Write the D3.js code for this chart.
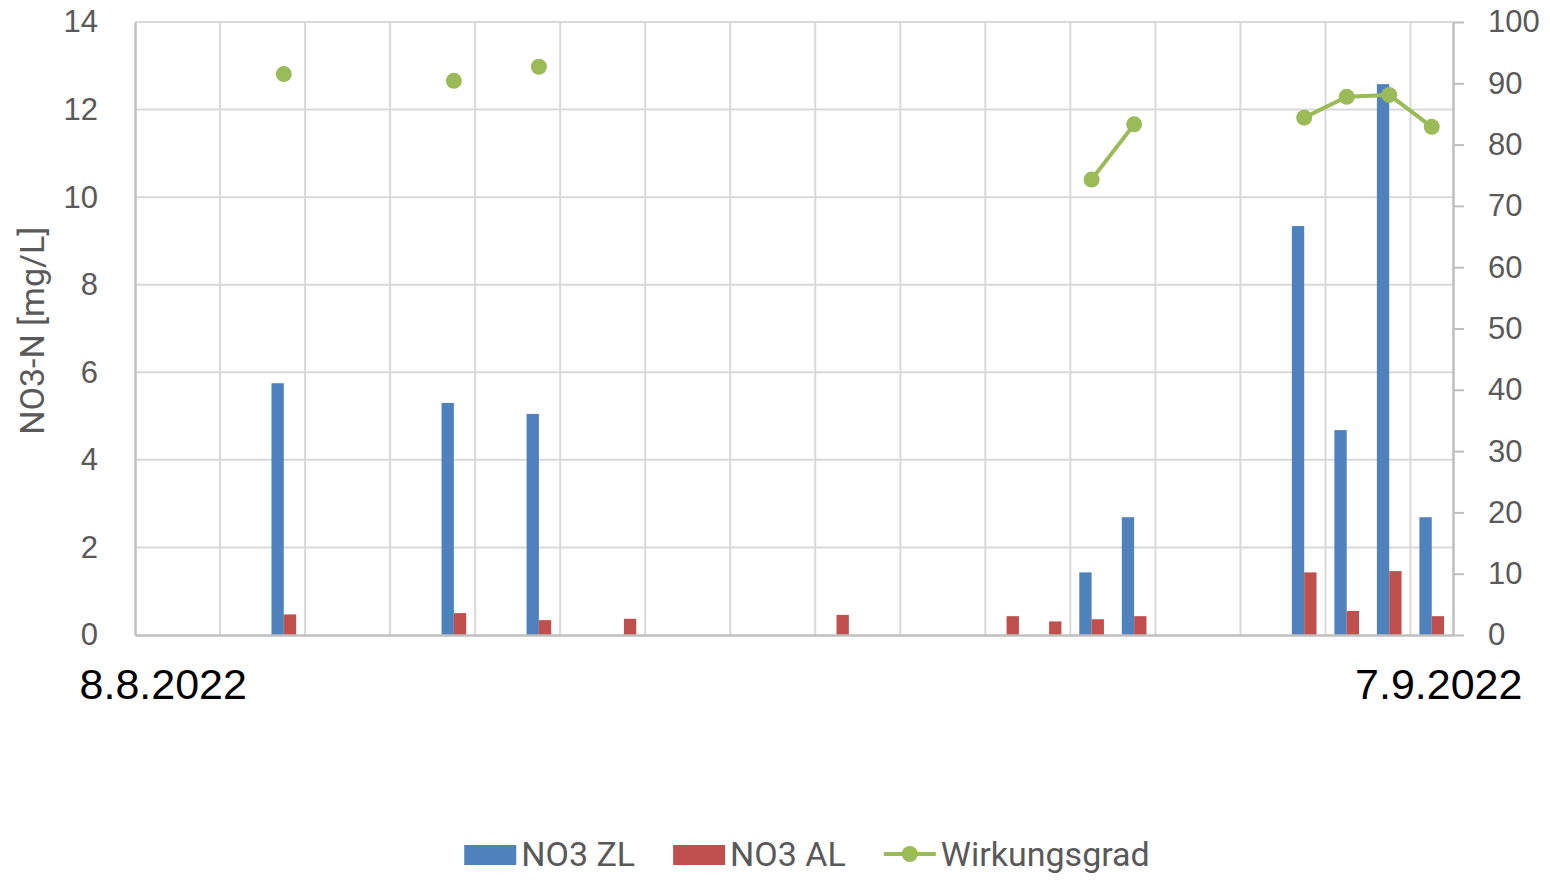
<!DOCTYPE html>
<html>
<head>
<meta charset="utf-8">
<script src="https://cdn.jsdelivr.net/npm/d3@7"></script>
<style>
  body { margin: 0; background: #fff; }
  svg { display: block; font-family: Roboto, "Liberation Sans", sans-serif; }
</style>
</head>
<body>
<svg width="1550" height="880"></svg>
<script>
// one category per day, 8.8.2022 - 7.9.2022
let dates = ["8.8.2022", "9.8.2022", "10.8.2022", "11.8.2022", "12.8.2022", "13.8.2022", "14.8.2022",
    "15.8.2022", "16.8.2022", "17.8.2022", "18.8.2022", "19.8.2022", "20.8.2022", "21.8.2022",
    "22.8.2022", "23.8.2022", "24.8.2022", "25.8.2022", "26.8.2022", "27.8.2022", "28.8.2022",
    "29.8.2022", "30.8.2022", "31.8.2022", "1.9.2022", "2.9.2022", "3.9.2022", "4.9.2022",
    "5.9.2022", "6.9.2022", "7.9.2022"];

let xLabels = ["8.8.2022", "7.9.2022"];
let leftTicks = [0, 2, 4, 6, 8, 10, 12, 14];
let rightTicks = [0, 10, 20, 30, 40, 50, 60, 70, 80, 90, 100];

// NO3-N [mg/L], null = no measurement
let no3ZL = [null, null, null, 5.75, null, null, null, 5.30, null, 5.05,
    null, null, null, null, null, null, null, null, null, null, null, null,
    1.43, 2.69, null, null, null, 9.34, 4.68, 12.58, 2.69];
let no3AL = [null, null, null, 0.47, null, null, null, 0.50, null, 0.34,
    null, 0.37, null, null, null, null, 0.46, null, null, null, 0.43, 0.31,
    0.36, 0.43, null, null, null, 1.43, 0.55, 1.46, 0.43];
// Wirkungsgrad [%]
let wirkungsgrad = [null, null, null, 91.5, null, null, null, 90.4, null, 92.7,
    null, null, null, null, null, null, null, null, null, null, null, null,
    74.3, 83.3, null, null, null, 84.4, 87.8, 88.1, 82.9];

let blue = "#4f81bd", red = "#c0504d", green = "#9bbb59";
let gridColor = "#d9d9d9", axisColor = "#bfbfbf", textColor = "#595959";

let svg = d3.select("svg");
let margin = {top: 22, right: 97, bottom: 245, left: 135};
let width = 1550 - margin.left - margin.right;
let height = 880 - margin.top - margin.bottom;

let g = svg.append("g")
    .attr("transform", "translate(" + margin.left + "," + margin.top + ")");

let x = d3.scaleBand().domain(dates).range([0, width]).padding(0);
let yL = d3.scaleLinear().domain([0, 14]).range([height, 0]);
let yR = d3.scaleLinear().domain([0, 100]).range([height, 0]);
let bw = x.bandwidth();
let barW = bw * 0.29;

// gridlines
g.append("g").selectAll("line")
    .data(leftTicks.filter(t => t > 0))
    .enter().append("line")
    .attr("x1", 0).attr("x2", width)
    .attr("y1", d => yL(d)).attr("y2", d => yL(d))
    .attr("stroke", gridColor).attr("stroke-width", 2);

g.append("g").selectAll("line")
    .data(dates.filter((d, i) => i > 0 && i % 2 == 0))
    .enter().append("line")
    .attr("x1", d => x(d)).attr("x2", d => x(d))
    .attr("y1", 0).attr("y2", height)
    .attr("stroke", gridColor).attr("stroke-width", 2);

// bars
g.append("g").selectAll("rect")
    .data(dates.filter((d, i) => no3ZL[i] != null))
    .enter().append("rect")
    .attr("x", d => x(d) + bw / 2 - barW)
    .attr("width", barW)
    .attr("y", d => yL(no3ZL[dates.indexOf(d)]))
    .attr("height", d => height - yL(no3ZL[dates.indexOf(d)]))
    .attr("fill", blue);

g.append("g").selectAll("rect")
    .data(dates.filter((d, i) => no3AL[i] != null))
    .enter().append("rect")
    .attr("x", d => x(d) + bw / 2)
    .attr("width", barW)
    .attr("y", d => yL(no3AL[dates.indexOf(d)]))
    .attr("height", d => height - yL(no3AL[dates.indexOf(d)]))
    .attr("fill", red);

// axes
let leftAxis = g.append("g")
    .call(d3.axisLeft(yL).tickValues(leftTicks).tickSize(0).tickPadding(37));
leftAxis.select(".domain").attr("stroke", axisColor).attr("stroke-width", 2.5);
leftAxis.selectAll("text").attr("font-size", "31px").attr("fill", textColor).attr("font-family", null);

let rightAxis = g.append("g")
    .attr("transform", "translate(" + width + ",0)")
    .call(d3.axisRight(yR).tickValues(rightTicks).tickSizeInner(11).tickSizeOuter(0).tickPadding(24));
rightAxis.select(".domain").attr("stroke", axisColor).attr("stroke-width", 2.5);
rightAxis.selectAll("line").attr("stroke", axisColor).attr("stroke-width", 2);
rightAxis.selectAll("text").attr("font-size", "31px").attr("fill", textColor).attr("font-family", null);

let bottomAxis = g.append("g")
    .attr("transform", "translate(0," + height + ")")
    .call(d3.axisBottom(x).tickValues(xLabels).tickSize(0).tickPadding(33));
bottomAxis.select(".domain").attr("stroke", axisColor).attr("stroke-width", 2.5);
bottomAxis.selectAll("text")
    .attr("font-size", "43px").attr("fill", "#000").attr("font-family", null)
    .attr("dx", 7);

// efficiency line on the right axis
let pts = dates.map((d, i) => ({d: d, v: wirkungsgrad[i]}));
let line = d3.line()
    .defined(p => p.v != null)
    .x(p => x(p.d) + bw / 2)
    .y(p => yR(p.v));

g.append("path")
    .datum(pts)
    .attr("d", line)
    .attr("fill", "none")
    .attr("stroke", green)
    .attr("stroke-width", 4)
    .attr("stroke-linejoin", "round");

g.append("g").selectAll("circle")
    .data(pts.filter(p => p.v != null))
    .enter().append("circle")
    .attr("cx", p => x(p.d) + bw / 2)
    .attr("cy", p => yR(p.v))
    .attr("r", 8)
    .attr("fill", green);

// y title
svg.append("text")
    .attr("transform", "translate(44," + (margin.top + yL(6.95)) + ") rotate(-90)")
    .attr("text-anchor", "middle")
    .attr("font-size", "34px")
    .attr("fill", textColor)
    .text("NO3-N [mg/L]");

// legend
let legendItems = [
    {name: "NO3 ZL", color: blue, type: "bar"},
    {name: "NO3 AL", color: red, type: "bar"},
    {name: "Wirkungsgrad", color: green, type: "line"}
];
let legend = svg.append("g");
let lx = 0;
legendItems.forEach(function (item) {
    let it = legend.append("g").attr("transform", "translate(" + lx + ",0)");
    if (item.type == "bar") {
        it.append("rect").attr("x", 0).attr("y", -9).attr("width", 52).attr("height", 20).attr("fill", item.color);
    } else {
        it.append("line").attr("x1", 0).attr("x2", 52).attr("y1", 0).attr("y2", 0)
            .attr("stroke", item.color).attr("stroke-width", 4);
        it.append("circle").attr("cx", 26).attr("cy", 0).attr("r", 8).attr("fill", item.color);
    }
    let t = it.append("text")
        .attr("x", 57).attr("y", 12)
        .attr("font-size", "34px")
        .attr("fill", textColor)
        .text(item.name);
    lx += 57 + t.node().getComputedTextLength() + 38;
});
let legendW = lx - 38;
legend.attr("transform", "translate(" + (807 - legendW / 2) + ",854)");
</script>
</body>
</html>
